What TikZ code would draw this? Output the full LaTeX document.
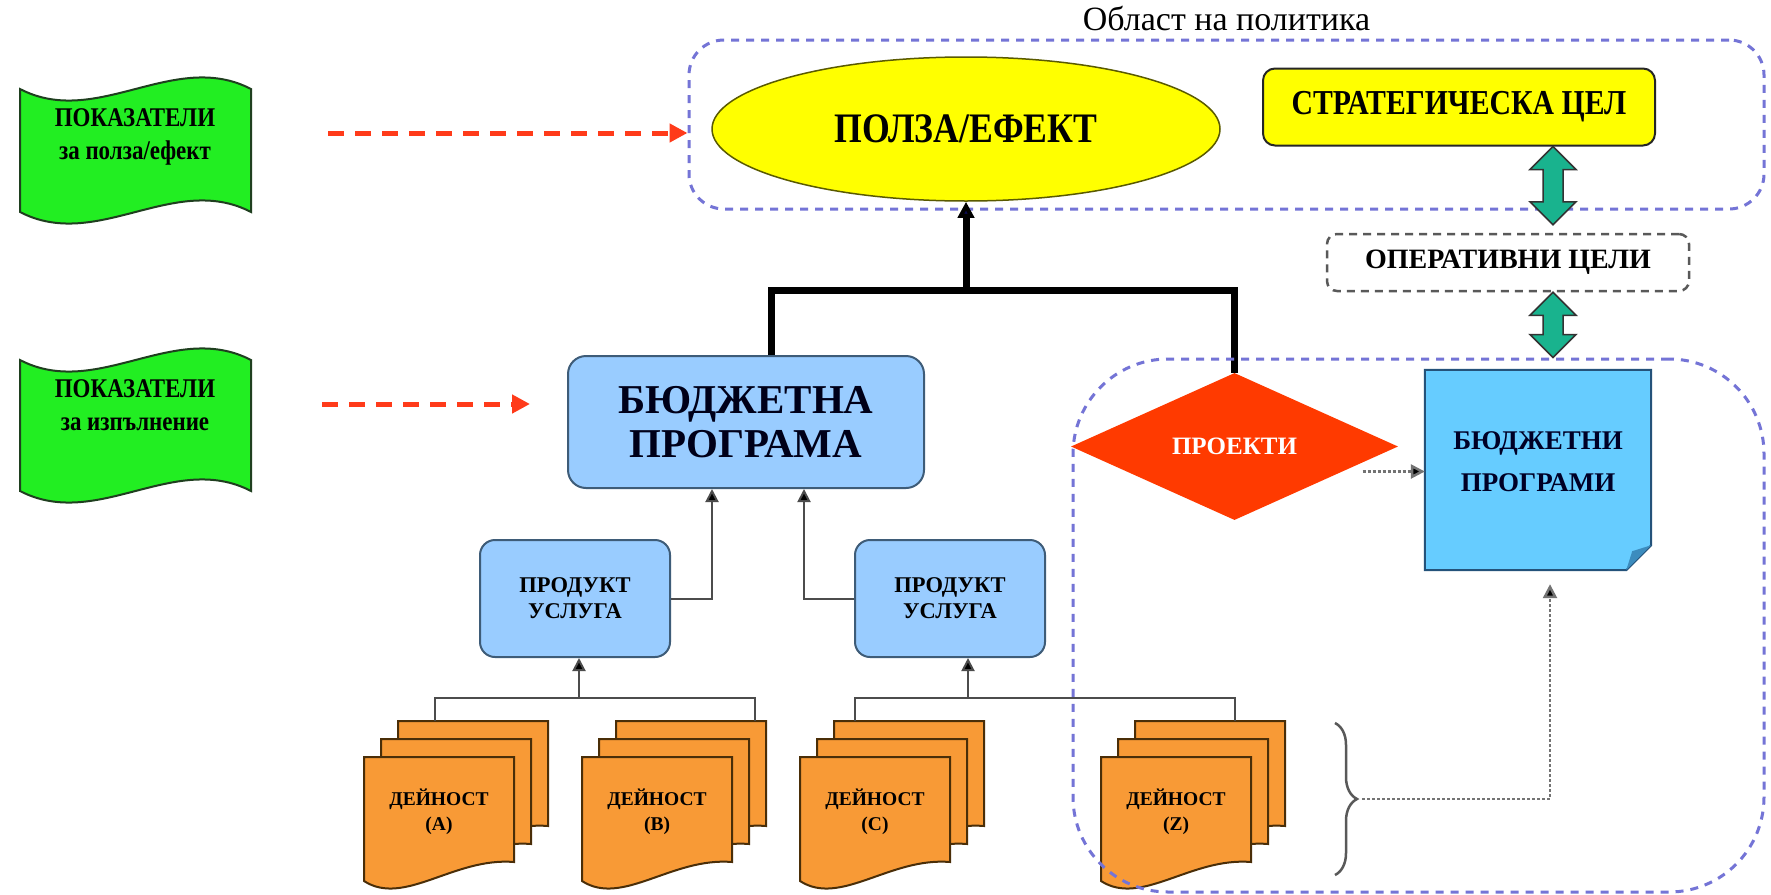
\documentclass[tikz,border=0pt]{standalone}
\usepackage{fontspec}
\setmainfont{Liberation Serif}
\newfontfamily\condfont[FakeStretch=0.85]{Liberation Serif}
\usetikzlibrary{shapes.geometric,arrows.meta,calc,decorations.pathreplacing}
\definecolor{gfill}{HTML}{22EE22}
\definecolor{gline}{HTML}{1F3F1F}
\definecolor{redd}{HTML}{FF3B1A}
\definecolor{polc}{HTML}{7474D6}
\definecolor{yel}{HTML}{FFFF00}
\definecolor{yline}{HTML}{5A5A00}
\definecolor{lblue}{HTML}{99CCFF}
\definecolor{bline}{HTML}{3E5C78}
\definecolor{sky}{HTML}{66CCFF}
\definecolor{skyline}{HTML}{24527A}
\definecolor{skydark}{HTML}{3C8CBE}
\definecolor{orng}{HTML}{F89A36}
\definecolor{oline}{HTML}{4A2E08}
\definecolor{diac}{HTML}{FF3A00}
\definecolor{tealc}{HTML}{19B38E}
\definecolor{navy}{HTML}{0A0A50}
\tikzset{
  greenbox/.style={draw=gline, line width=2pt, fill=gfill},
  gtext/.style={font=\condfont\bfseries\fontsize{27}{33}\selectfont, align=center, text=black},
  reddash/.style={draw=redd, line width=5pt, dash pattern=on 16pt off 11pt, -{Triangle[length=18pt,width=18pt,fill=redd]}},
  polbox/.style={draw=polc, line width=3pt, dash pattern=on 8pt off 7pt, rounded corners=35pt},
  ell/.style={ellipse, draw=yline, line width=1.5pt, fill=yel, minimum width=508pt, minimum height=144pt, font=\condfont\bfseries\fontsize{42}{48}\selectfont},
  strat/.style={draw=black!85, line width=2pt, fill=yel, rounded corners=12pt, minimum width=392pt, minimum height=77pt, font=\condfont\bfseries\fontsize{35}{38}\selectfont},
  oper/.style={draw=black!65, line width=2.5pt, dash pattern=on 8pt off 6pt, rounded corners=10pt, fill=white, minimum width=362pt, minimum height=57pt, font=\bfseries\fontsize{28}{32}\selectfont},
  bpbox/.style={draw=bline, line width=2pt, fill=lblue, rounded corners=18pt, minimum width=356pt, minimum height=132pt, align=center, text=black!90!blue, font=\bfseries\fontsize{41}{44}\selectfont},
  prod/.style={draw=bline, line width=2pt, fill=lblue, rounded corners=15pt, minimum width=190pt, minimum height=117pt, align=center, font=\bfseries\fontsize{22.5}{26}\selectfont},
  dia/.style={diamond, aspect=2.2, fill=diac, minimum width=327pt, minimum height=147pt, text=white, font=\bfseries\fontsize{25}{28}\selectfont},
  sheet/.style={draw=oline, line width=2pt, fill=orng},
  acttext/.style={align=center, font=\bfseries\fontsize{19.5}{25}\selectfont},
  conn/.style={draw=black!70, line width=2pt},
  tip/.style={-{Triangle[length=13pt,width=13pt,fill=black]}},
  bk/.style={draw=black, line width=7pt},
  dotarr/.style={draw=black!55, line width=2.5pt, dash pattern=on 3pt off 2pt, -{Triangle[length=14pt,width=14pt,fill=black]}},
  tealarr/.style={draw=black!80, line width=1.5pt, fill=tealc},
}
\newcommand\actstack[5]{%
  \foreach \k in {2,1,0}{%
    \begin{scope}[shift={({#2+17*\k},{#3-18*\k})}]
      \draw[sheet] (0,0) -- (150,0) -- (150,105) .. controls (90,100) and (40,150) .. (0,124) -- cycle;
    \end{scope}
  }
  \node[acttext] (#1) at ({#2+75},{#3+55}) {ДЕЙНОСТ\\(#4)};
  \coordinate (#1in) at ({#2+#5},{#3-36});
}
\newcommand\dblarr[2]{%
  \path[tealarr] let \p1=(#1), \p2=(#2) in
    (\x1,\y1) -- (\x1+23pt,\y1-23pt) -- (\x1+10pt,\y1-23pt) -- (\x1+10pt,\y2+23pt)
    -- (\x1+23pt,\y2+23pt) -- (\x1,\y2) -- (\x1-23pt,\y2+23pt) -- (\x1-10pt,\y2+23pt)
    -- (\x1-10pt,\y1-23pt) -- (\x1-23pt,\y1-23pt) -- cycle;
}
\begin{document}
\begin{tikzpicture}[x=1pt,y=-1pt]
\useasboundingbox (0,0) rectangle (1771,894);
\fill[white] (0,0) rectangle (1771,894);

% policy area
\node[polbox, minimum width=1075pt, minimum height=169pt] (pol) at (1226.5,124.5) {};
\node[anchor=base, font=\fontsize{34}{38}\selectfont] (title) at ($(pol.north)+(0,-8)$) {Област на политика};

% green indicator boxes
\draw[greenbox] (20,89) .. controls (97,129) and (174,49) .. (251,89) -- (251,212)
  .. controls (174,172) and (97,252) .. (20,212) -- cycle;
\node[gtext] (g1) at (135,137) {ПОКАЗАТЕЛИ\\за полза/ефект};
\draw[greenbox] (20,360) .. controls (97,400) and (174,320) .. (251,360) -- (251,491)
  .. controls (174,451) and (97,531) .. (20,491) -- cycle;
\node[gtext] (g2) at (135,405) {ПОКАЗАТЕЛИ\\за изпълнение};

% top nodes
\node[ell] (eff) at (966,129) {ПОЛЗА/ЕФЕКТ};
\node[strat] (strat) at (1459,107) {СТРАТЕГИЧЕСКА ЦЕЛ};
\node[oper] (oper) at (1508,262.5) {ОПЕРАТИВНИ ЦЕЛИ};

% budget program and products
\node[bpbox] (bp) at (746,422) {БЮДЖЕТНА\\ПРОГРАМА};
\node[prod] (p1) at (575,598.5) {ПРОДУКТ\\УСЛУГА};
\node[prod] (p2) at (950,598.5) {ПРОДУКТ\\УСЛУГА};

% projects diamond and budget programs note
\node[dia] (proj) at (1234.5,446.5) {ПРОЕКТИ};
\node[minimum width=226pt, minimum height=200pt] (bps) at (1538,470) {};
\draw[draw=skyline, line width=2pt, fill=sky] (bps.north west) -- (bps.north east)
  -- ([yshift=25pt]bps.south east) -- ([xshift=-25pt]bps.south east) -- (bps.south west) -- cycle;
\fill[skydark] ([yshift=25pt]bps.south east) -- ([xshift=-25pt]bps.south east) -- ([xshift=-19pt,yshift=19pt]bps.south east) -- cycle;
\node[align=center, text=black!85!blue, font=\bfseries\fontsize{27}{42}\selectfont] (bpst) at ([yshift=8pt]bps.center) {БЮДЖЕТНИ\\ПРОГРАМИ};

% activity stacks
\actstack{A}{364}{757}{A}{71}
\actstack{B}{582}{757}{B}{173}
\actstack{C}{800}{757}{C}{55}
\actstack{Z}{1101}{757}{Z}{134}

% red dashed indicator arrows
\coordinate (r1s) at (328,133);
\draw[reddash] (r1s) -- (r1s -| pol.west);
\coordinate (r2s) at (322,404);
\coordinate (r2e) at ($(bp.west)+(-37,0)$);
\draw[reddash] (r2s) -- (r2s -| r2e);

% thick black connector
\draw[bk] ($(bp.north)+(25,0)$) -- ++(0,-65) -| (proj.north);
\path (eff.south) ++(0,90) coordinate (jt);
\draw[bk, -{Triangle[length=16pt,width=16pt,fill=navy]}] (jt) -- (eff.south);

% products -> budget program
\draw[conn, tip] (p1.east) -| ($(bp.south)+(-34,0)$);
\draw[conn, tip] (p2.west) -| ($(bp.south)+(58,0)$);

% activities -> products
\coordinate (j1) at ($(p1.south)+(4,40)$);
\draw[conn] (Ain) -- (Ain |- j1) -- (Bin |- j1) -- (Bin);
\draw[conn, tip] (j1) -- (j1 |- p1.south);
\coordinate (j2) at ($(p2.south)+(18,40)$);
\draw[conn] (Cin) -- (Cin |- j2) -- (Zin |- j2) -- (Zin);
\draw[conn, tip] (j2) -- (j2 |- p2.south);

% projects -> budget programs
\coordinate (pd) at ($(proj.center)+(128,25)$);
\draw[dotarr] (pd) -- (pd -| bps.west);

% brace and dotted arrow
\coordinate (brt) at (1335,723);
\coordinate (brb) at (1335,875);
\draw[draw=black!65, line width=2.5pt, decorate, decoration={brace, amplitude=22pt}] (brt) -- (brb);
\coordinate (bt) at (1362,799);
\draw[dotarr] (bt) -| ($(bps.south)+(12,14)$);

% region of projects / budget programs
\node[polbox, rounded corners=95pt, minimum width=691pt, minimum height=533pt] (reg) at (1418.5,625.5) {};

% teal double arrows
\coordinate (t1a) at ($(strat.south)+(94,0)$);
\coordinate (t1b) at ($(oper.north)+(45,-8)$);
\dblarr{t1a}{t1b}
\coordinate (t2a) at ($(oper.south)+(45,0)$);
\coordinate (t2b) at ($(reg.north)+(134.5,0)$);
\dblarr{t2a}{t2b}
\end{tikzpicture}
\end{document}
